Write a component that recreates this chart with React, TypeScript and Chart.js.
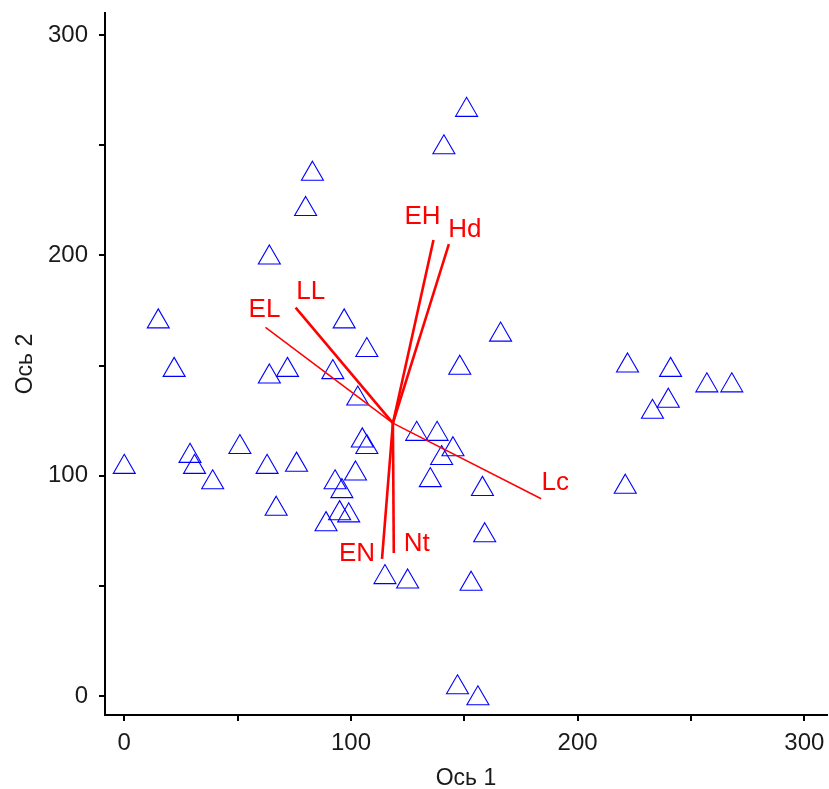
import React, { useEffect, useRef } from 'react';
import { Chart, registerables } from 'chart.js';

Chart.register(...registerables);

// Sample scores (triangles)
const sampleX = [0, 15, 22, 29, 31, 39, 51, 64, 64, 63, 72, 67, 76, 83, 80, 97, 92, 107, 103, 105, 107, 102, 93, 96, 95, 99, 89, 115, 125, 129, 138, 140, 145, 135, 158, 159, 153, 147, 156, 148, 166, 151, 141, 221, 222, 233, 240, 241, 257, 268];
const sampleY = [104, 170, 148, 109, 104, 97, 113, 199, 145, 104, 148, 85, 105, 237, 221, 170, 147, 157, 135, 116, 113, 101, 97, 93, 83, 82, 78, 54, 52, 119, 119, 108, 112, 98, 94, 73, 51, 4, -1, 149, 164, 266, 249, 95, 150, 129, 134, 148, 141, 141];

// Variable vectors (biplot)
const vectorNames = ['EH', 'Hd', 'LL', 'EL', 'EN', 'Nt', 'Lc'];
const vectorOriginX = 118.5;
const vectorOriginY = 123.9;
const vectorEndX = [136.4, 143.2, 75.6, 62.3, 113.7, 118.9, 183.9];
const vectorEndY = [207.0, 205.1, 176.3, 167.4, 62.3, 65.0, 89.6];

// Axes
const tickValues = [0, 50, 100, 150, 200, 250, 300];
const labeledTicks = [0, 100, 200, 300];
const xTitle = 'Ось 1';
const yTitle = 'Ось 2';

// Styles (not data)
const vectorWidths = [2.6, 2.6, 2.6, 1.5, 2.6, 2.6, 1.5];
const labelOffsets: [number, number][] = [[-11, -23], [16, -14], [15, -16], [-1, -17], [-25, -5], [23, -9], [14, -16]];
const FONT = "'Liberation Sans', Arial, sans-serif";

export default function App() {
  const ref = useRef<HTMLCanvasElement | null>(null);

  useEffect(() => {
    if (!ref.current) return;

    const vectorDatasets = vectorNames.map((name, i) => ({
      type: 'line' as const,
      label: name,
      data: [
        { x: vectorOriginX, y: vectorOriginY },
        { x: vectorEndX[i], y: vectorEndY[i] },
      ],
      borderColor: '#ff0000',
      borderWidth: vectorWidths[i],
      pointRadius: 0,
      showLine: true,
      fill: false,
      order: 1,
    }));

    const labelPlugin = {
      id: 'vectorLabels',
      afterDatasetsDraw(chart: any) {
        const ctx = chart.ctx;
        ctx.save();
        ctx.fillStyle = '#ff0000';
        ctx.font = `26px ${FONT}`;
        ctx.textAlign = 'center';
        ctx.textBaseline = 'middle';
        vectorNames.forEach((name, i) => {
          const meta = chart.getDatasetMeta(i + 1);
          const pt = meta.data[1];
          if (!pt) return;
          ctx.fillText(name, pt.x + labelOffsets[i][0], pt.y + labelOffsets[i][1]);
        });
        ctx.restore();
      },
    };

    const setTicks = (scale: any) => {
      scale.ticks = tickValues.map((v) => ({ value: v }));
    };
    const clearPad = (s: any) => {
      s.paddingTop = 0;
      s.paddingBottom = 0;
      s.paddingLeft = 0;
      s.paddingRight = 0;
    };

    const chart = new Chart(ref.current, {
      type: 'scatter',
      data: {
        datasets: [
          {
            type: 'scatter',
            label: 'samples',
            data: sampleX.map((x, i) => ({ x, y: sampleY[i] })),
            pointStyle: 'triangle',
            pointRadius: 12.7,
            borderColor: '#0000ff',
            backgroundColor: 'rgba(0,0,0,0)',
            borderWidth: 1.1,
            order: 2,
          } as any,
          ...vectorDatasets,
        ],
      },
      options: {
        animation: false,
        responsive: true,
        maintainAspectRatio: false,
        events: [],
        layout: { autoPadding: false, padding: { top: 13, right: 2, left: 0, bottom: 0 } },
        plugins: {
          legend: { display: false },
          tooltip: { enabled: false },
        },
        scales: {
          x: {
            type: 'linear',
            min: -8.5,
            max: 310,
            afterBuildTicks: setTicks,
            afterFit: (s: any) => { s.height = 74; clearPad(s); },
            border: { display: true, color: '#000', width: 2 },
            grid: { display: true, drawOnChartArea: false, drawTicks: true, tickLength: 6, color: '#000', lineWidth: 2 },
            ticks: {
              autoSkip: false,
              maxRotation: 0,
              padding: 8,
              color: '#1a1a1a',
              font: { family: FONT, size: 24 },
              callback: (v: any) => (labeledTicks.includes(Number(v)) ? String(v) : ''),
            },
            title: {
              display: true,
              text: xTitle,
              color: '#1a1a1a',
              font: { family: FONT, size: 23, lineHeight: 1 },
              padding: { top: 0, bottom: -1 },
            },
          },
          y: {
            type: 'linear',
            min: -8.5,
            max: 310,
            afterBuildTicks: setTicks,
            afterFit: (s: any) => { s.width = 105; clearPad(s); },
            border: { display: true, color: '#000', width: 2 },
            grid: { display: true, drawOnChartArea: false, drawTicks: true, tickLength: 6, color: '#000', lineWidth: 2 },
            ticks: {
              autoSkip: false,
              padding: 11,
              color: '#1a1a1a',
              font: { family: FONT, size: 24 },
              callback: (v: any) => (labeledTicks.includes(Number(v)) ? String(v) : ''),
            },
            title: {
              display: true,
              text: yTitle,
              color: '#1a1a1a',
              font: { family: FONT, size: 23, lineHeight: 1 },
              padding: { top: 14, bottom: 0 },
            },
          },
        },
      },
      plugins: [labelPlugin],
    } as any);

    return () => chart.destroy();
  }, []);

  return (
    <div style={{ position: 'fixed', left: 0, top: 0, width: 829, height: 789, background: '#fff' }}>
      <canvas ref={ref} />
    </div>
  );
}
